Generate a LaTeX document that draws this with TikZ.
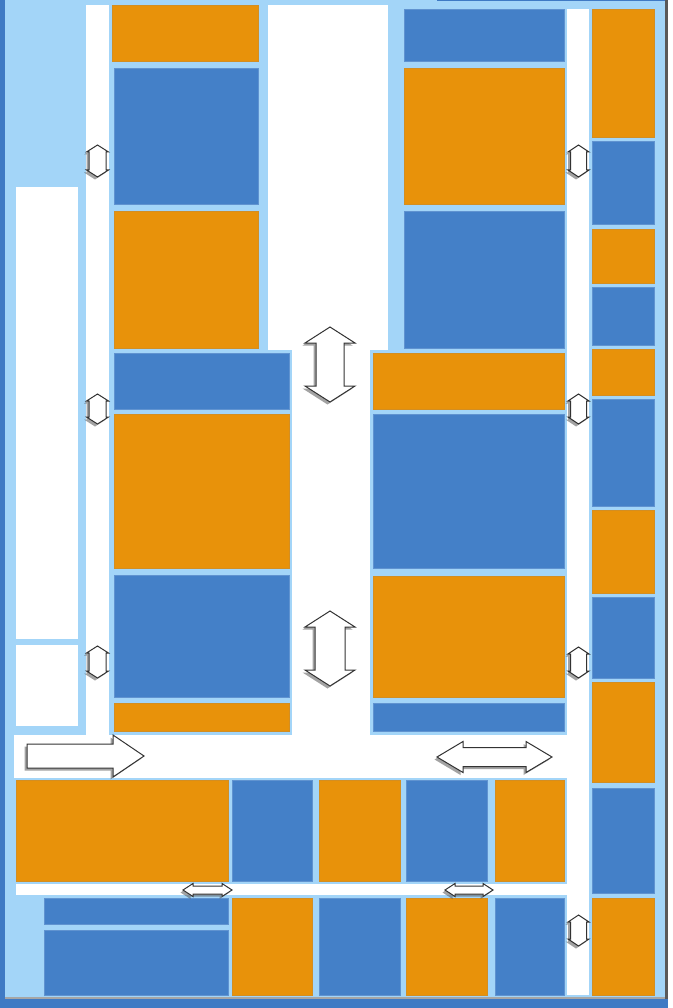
\documentclass[tikz,border=0pt]{standalone}
\usetikzlibrary{shadows}
\definecolor{lb}{HTML}{A3D5F8}
\definecolor{org}{HTML}{E8920A}
\definecolor{blu}{HTML}{4480C8}
\definecolor{dkb}{HTML}{3F7AC4}
\tikzset{
  orgblk/.style={fill=org, draw=org!80!gray, line width=0.7pt},
  blublk/.style={fill=blu, draw=blu!85!white, line width=0.7pt},
  road/.style={fill=white},
  arr/.style={fill=white, draw=black!80, line width=1pt, line join=miter,
    drop shadow={shadow xshift=-2.5pt, shadow yshift=-2.5pt, opacity=0.55, fill=black!65}}
}
\newcommand\ob[4]{\path[orgblk] (#1,#2) rectangle (#3,#4);}
\newcommand\bb[4]{\path[blublk] (#1,#2) rectangle (#3,#4);}
% vertical double arrow: cx, top, bottom, head half width, shaft half width, head length
\newcommand\vdarr[6]{\path[arr] (#1,#2) -- ({#1+#4},{#2+#6}) -- ({#1+#5},{#2+#6}) -- ({#1+#5},{#3-#6}) -- ({#1+#4},{#3-#6}) -- (#1,#3) -- ({#1-#4},{#3-#6}) -- ({#1-#5},{#3-#6}) -- ({#1-#5},{#2+#6}) -- ({#1-#4},{#2+#6}) -- cycle;}
% horizontal double arrow: cy, left, right, head half height, shaft half height, head length
\newcommand\hdarr[6]{\path[arr] (#2,#1) -- ({#2+#6},{#1-#4}) -- ({#2+#6},{#1-#5}) -- ({#3-#6},{#1-#5}) -- ({#3-#6},{#1-#4}) -- (#3,#1) -- ({#3-#6},{#1+#4}) -- ({#3-#6},{#1+#5}) -- ({#2+#6},{#1+#5}) -- ({#2+#6},{#1+#4}) -- cycle;}
\begin{document}
\begin{tikzpicture}[x=1pt,y=-1pt]
\useasboundingbox (0,0) rectangle (672,1008);
% frame
\fill[white] (0,0) rectangle (672,1008);
\fill[dkb] (0,0) rectangle (668,1008);
\fill[lb] (5,0) rectangle (665,997);
\fill[black!65] (665,0) rectangle (668,999);
\fill[dkb] (437,0) rectangle (665,1.5);
\fill[black!35] (5,997) rectangle (665,998.5);
% white areas (roads and empty plots)
\path[road] (16,187) rectangle (78,639);
\path[road] (16,645) rectangle (78,726);
\path[road] (86,5) rectangle (109,778);
\path[road] (268,5) rectangle (388,350);
\path[road] (292,348) rectangle (370,778);
\path[road] (14,735) rectangle (567,778);
\path[road] (567,9) rectangle (589,995);
\path[road] (16,884) rectangle (567,895);
% left-centre column
\ob{112}{5}{258}{61}
\bb{114}{68}{258}{204}
\ob{114}{211}{258}{348}
\bb{114}{353}{289}{409}
\ob{114}{414}{289}{568}
\bb{114}{575}{289}{697}
\ob{114}{703}{289}{731}
% right-centre column
\bb{404}{9}{564}{61}
\ob{404}{68}{564}{204}
\bb{404}{211}{564}{348}
\ob{373}{353}{564}{409}
\bb{373}{414}{564}{568}
\ob{373}{576}{564}{697}
\bb{373}{703}{564}{731}
% far right column
\ob{592}{9}{654}{137}
\bb{592}{141}{654}{224}
\ob{592}{229}{654}{283}
\bb{592}{287}{654}{345}
\ob{592}{349}{654}{395}
\bb{592}{399}{654}{506}
\ob{592}{510}{654}{593}
\bb{592}{597}{654}{678}
\ob{592}{682}{654}{782}
\bb{592}{788}{654}{893}
\ob{592}{898}{654}{995}
% bottom row 1
\ob{16}{780}{228}{881}
\bb{232}{780}{312}{881}
\ob{319}{780}{400}{881}
\bb{406}{780}{487}{881}
\ob{495}{780}{564}{881}
% bottom row 2
\bb{44}{898}{228}{924}
\bb{44}{930}{228}{995}
\ob{232}{898}{312}{995}
\bb{319}{898}{400}{995}
\ob{406}{898}{487}{995}
\bb{495}{898}{564}{995}
% small vertical arrows, left road
\vdarr{97.5}{145}{177}{11}{8.5}{7}
\vdarr{97.5}{394}{424}{11}{8.5}{7}
\vdarr{97.5}{646}{678}{11}{8.5}{7}
% small vertical arrows, right road
\vdarr{578.5}{145}{177}{10.5}{8}{7}
\vdarr{578.5}{394}{424}{10.5}{8}{7}
\vdarr{578.5}{647}{678}{10.5}{8}{7}
\vdarr{578.5}{915}{946}{10.5}{8}{7}
% big vertical arrows, middle road
\vdarr{330}{327}{402}{25}{14}{16}
\vdarr{330}{611}{686}{25}{15}{16}
% right-pointing arrow
\path[arr] (27,744) -- (113,744) -- (113,735) -- (144,756) -- (113,777) -- (113,768) -- (27,768) -- cycle;
% horizontal double arrows
\hdarr{757}{437}{552}{15.5}{9.5}{26}
\hdarr{890}{183}{232}{6.5}{4}{10}
\hdarr{890}{445}{493}{6.5}{4}{10}
\end{tikzpicture}
\end{document}
